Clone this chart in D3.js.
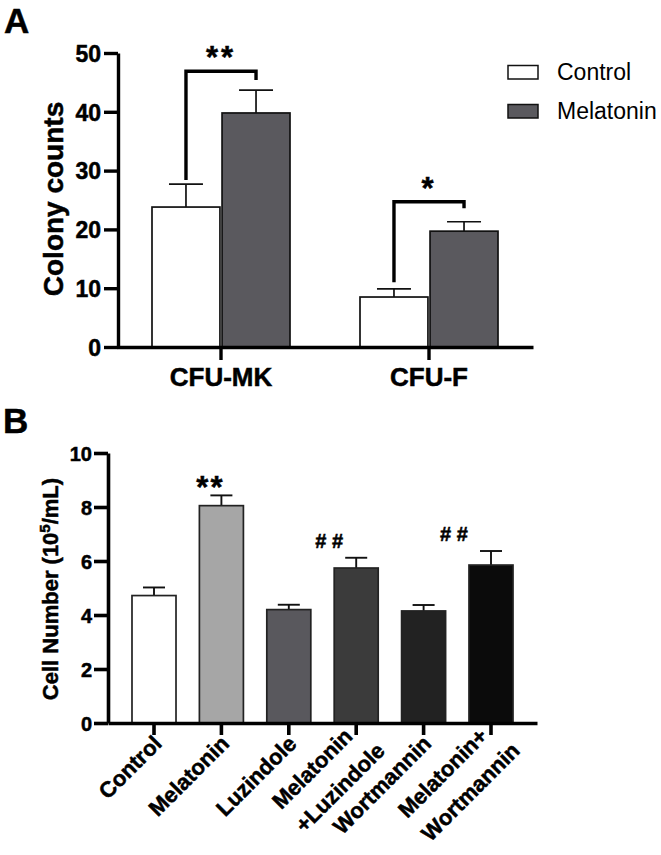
<!DOCTYPE html>
<html><head><meta charset="utf-8">
<script src="https://cdn.jsdelivr.net/npm/d3@7"></script>
<style>
html,body{margin:0;padding:0;background:#fff;}
svg{display:block;}
text{font-family:"Liberation Sans",Arial,Helvetica,sans-serif;}
.bold{font-weight:bold;stroke:#000;stroke-width:0.5px;}
</style></head>
<body>
<svg id="chart" width="661" height="855"></svg>
<script>
// ---------- Panel A data ----------
const categoriesA = ["CFU-MK", "CFU-F"];
const seriesA = ["Control", "Melatonin"];
const controlA = [23.8, 8.5];
const controlErrA = [3.9, 1.4];
const melatoninA = [39.8, 19.7];
const melatoninErrA = [3.9, 1.6];
const yTicksA = [0, 10, 20, 30, 40, 50];
const sigTextA = ["**", "*"];
const bracketTopA = [46.9, 24.7];
const bracketLeftEndA = [28.4, 11.0];
const bracketRightEndA = [45.4, 23.6];
const seriesColorsA = ["#ffffff", "#5a595e"];

// ---------- Panel B data ----------
const categoriesB = ["Control", "Melatonin", "Luzindole", "Melatonin\n+Luzindole", "Wortmannin", "Melatonin+\nWortmannin"];
const valuesB = [4.72, 8.05, 4.2, 5.74, 4.15, 5.85];
const errorsB = [0.3, 0.38, 0.18, 0.38, 0.22, 0.52];
const colorsB = ["#ffffff", "#a6a6a6", "#59585d", "#3b3b3b", "#222222", "#0b0b0b"];
const yTicksB = [0, 2, 4, 6, 8, 10];
const sigTextB = ["", "**", "", "# #", "", "# #"];

const svg = d3.select("#chart");
const FONT = '"Liberation Sans",Arial,Helvetica,sans-serif';

// ================= Panel A =================
const A = {left: 118, right: 533, top: 53, bottom: 347};
const xA = d3.scaleBand().domain(categoriesA).range([A.left - 1, A.right]).padding(0);
const xA1 = d3.scaleBand().domain(seriesA)
  .range([xA.bandwidth() / 2 - 69, xA.bandwidth() / 2 + 69]).paddingInner(0.03);
const yA = d3.scaleLinear().domain([0, 50]).range([A.bottom, A.top]);

const gA = svg.append("g");
svg.append("text").attr("class", "bold").attr("x", 4).attr("y", 33).attr("font-size", 35).text("A");

const dataA = categoriesA.map((c, i) => ({
  cat: c,
  bars: [
    {s: seriesA[0], v: controlA[i], e: controlErrA[i], color: seriesColorsA[0]},
    {s: seriesA[1], v: melatoninA[i], e: melatoninErrA[i], color: seriesColorsA[1]}
  ]
}));

dataA.forEach(d => {
  const g = gA.append("g").attr("transform", `translate(${xA(d.cat)},0)`);
  d.bars.forEach(b => {
    const cx = xA1(b.s) + xA1.bandwidth() / 2;
    g.append("line").attr("x1", cx).attr("x2", cx).attr("y1", yA(b.v)).attr("y2", yA(b.v + b.e))
      .attr("stroke", "#111").attr("stroke-width", 1.7);
    g.append("line").attr("x1", cx - xA1.bandwidth() / 4).attr("x2", cx + xA1.bandwidth() / 4)
      .attr("y1", yA(b.v + b.e)).attr("y2", yA(b.v + b.e))
      .attr("stroke", "#111").attr("stroke-width", 1.7);
    g.append("rect").attr("x", xA1(b.s)).attr("width", xA1.bandwidth())
      .attr("y", yA(b.v)).attr("height", yA(0) - yA(b.v))
      .attr("fill", b.color).attr("stroke", "#111").attr("stroke-width", 1.7);
  });
});

// brackets
categoriesA.forEach((c, i) => {
  const lx = xA(c) + xA1(seriesA[0]) + xA1.bandwidth() / 2;
  const rx = xA(c) + xA1(seriesA[1]) + xA1.bandwidth() / 2;
  const path = d3.path();
  path.moveTo(lx, yA(bracketLeftEndA[i]));
  path.lineTo(lx, yA(bracketTopA[i]));
  path.lineTo(rx, yA(bracketTopA[i]));
  path.lineTo(rx, yA(bracketRightEndA[i]));
  gA.append("path").attr("d", path.toString()).attr("fill", "none")
    .attr("stroke", "#000").attr("stroke-width", 3.4).attr("stroke-linejoin", "miter");
  gA.append("text").attr("class", "bold").attr("x", (lx + rx) / 2).attr("y", yA(bracketTopA[i]) - 3)
    .attr("text-anchor", "middle").attr("font-size", 31)
    .attr("letter-spacing", 3).text(sigTextA[i]);
});

// axes A
const yAxisA = d3.axisLeft(yA).tickValues(yTicksA).tickSize(14).tickPadding(3).tickSizeOuter(0);
const gyA = gA.append("g").attr("transform", `translate(${A.left},0)`).call(yAxisA);
gyA.select(".domain").attr("stroke", "#000").attr("stroke-width", 3.4);
gyA.selectAll(".tick line").attr("stroke", "#000").attr("stroke-width", 3.4);
gyA.selectAll(".tick text").attr("class", "bold").attr("font-size", 23).attr("fill", "#000")
  .attr("font-family", FONT).attr("dy", "0.36em");

const xAxisA = d3.axisBottom(xA).tickSize(13).tickPadding(8).tickSizeOuter(0);
const gxA = gA.append("g").attr("transform", `translate(0,${A.bottom})`).call(xAxisA);
gxA.select(".domain").attr("stroke", "#000").attr("stroke-width", 3.4);
gxA.selectAll(".tick line").attr("stroke", "#000").attr("stroke-width", 3.4);
gxA.selectAll(".tick text").attr("class", "bold").attr("font-size", 26).attr("fill", "#000")
  .attr("font-family", FONT).attr("dy", "0.68em");

gA.append("text").attr("class", "bold").attr("transform", `translate(63,199) rotate(-90)`).attr("text-anchor", "middle")
  .attr("font-size", 28).text("Colony counts");

// legend
const legA = gA.append("g");
seriesA.forEach((s, i) => {
  const ly = 72 + i * 39;
  legA.append("rect").attr("x", 508).attr("y", ly - 6.5).attr("width", 30).attr("height", 13.5)
    .attr("fill", seriesColorsA[i]).attr("stroke", "#111").attr("stroke-width", 1.5);
  legA.append("text").attr("x", 557).attr("y", ly + 8).attr("font-size", 23).text(s);
});

// ================= Panel B =================
const B = {left: 108, right: 537, top: 453, bottom: 723};
const xB = d3.scaleBand().domain(categoriesB).range([B.left, B.right])
  .paddingInner(0.347).paddingOuter(0.356);
const yB = d3.scaleLinear().domain([0, 10]).range([B.bottom, B.top]);

const gB = svg.append("g");
svg.append("text").attr("class", "bold").attr("x", 3).attr("y", 433).attr("font-size", 35).text("B");

categoriesB.forEach((c, i) => {
  const x0 = xB(c), bw = xB.bandwidth(), cx = x0 + bw / 2;
  const v = valuesB[i], e = errorsB[i];
  gB.append("line").attr("x1", cx).attr("x2", cx).attr("y1", yB(v)).attr("y2", yB(v + e))
    .attr("stroke", "#111").attr("stroke-width", 1.9);
  gB.append("line").attr("x1", cx - bw / 4).attr("x2", cx + bw / 4).attr("y1", yB(v + e)).attr("y2", yB(v + e))
    .attr("stroke", "#111").attr("stroke-width", 1.9);
  gB.append("rect").attr("x", x0).attr("width", bw).attr("y", yB(v)).attr("height", yB(0) - yB(v))
    .attr("fill", colorsB[i]).attr("stroke", "#222").attr("stroke-width", 1.7);
});

// significance marks B
categoriesB.forEach((c, i) => {
  const t = sigTextB[i];
  if (!t) return;
  const cx = xB(c) + xB.bandwidth() / 2;
  const isStar = t === "**";
  const dx = isStar ? -11 : (i === 5 ? -37 : -27);
  const y = yB(valuesB[i] + errorsB[i]) + (isStar ? 3 : -10);
  gB.append("text").attr("class", "bold").attr("x", cx + dx).attr("y", y).attr("text-anchor", "middle")
    .attr("font-size", isStar ? 31 : 20).attr("letter-spacing", isStar ? 2 : 0).text(t);
});

// axes B
const yAxisB = d3.axisLeft(yB).tickValues(yTicksB).tickSize(14).tickPadding(2).tickSizeOuter(0);
const gyB = gB.append("g").attr("transform", `translate(${B.left},0)`).call(yAxisB);
gyB.select(".domain").attr("stroke", "#000").attr("stroke-width", 3.6);
gyB.selectAll(".tick line").attr("stroke", "#000").attr("stroke-width", 3.6);
gyB.selectAll(".tick text").attr("class", "bold").attr("font-size", 20).attr("fill", "#000")
  .attr("font-family", FONT).attr("dy", "0.36em");

const xAxisB = d3.axisBottom(xB).tickSize(12).tickSizeOuter(0).tickFormat("");
const gxB = gB.append("g").attr("transform", `translate(0,${B.bottom})`).call(xAxisB);
gxB.select(".domain").attr("stroke", "#000").attr("stroke-width", 3.6);
gxB.selectAll(".tick line").attr("stroke", "#000").attr("stroke-width", 3.6);

// rotated category labels
const labFs = 22, lh = 33;
categoriesB.forEach(c => {
  const tx = xB(c) + xB.bandwidth() / 2;
  const lines = c.split("\n");
  const g = gB.append("g");
  const texts = lines.map(l => g.append("text").attr("class", "bold").attr("font-size", labFs).text(l));
  const widths = texts.map(t => t.node().getComputedTextLength());
  const W = d3.max(widths);
  if (lines.length === 1) {
    g.attr("transform", `translate(${tx + 9},${B.bottom + 22}) rotate(-45)`);
    texts[0].attr("x", -W).attr("y", 0);
  } else {
    // right end of the longest (last) line anchored near the tick
    g.attr("transform", `translate(${tx + 30},${B.bottom + 29}) rotate(-45)`);
    texts.forEach((t, k) => t.attr("x", -W).attr("y", (k - (lines.length - 1)) * lh));
  }
});

gB.append("text").attr("class", "bold").attr("transform", `translate(58,589) rotate(-90)`).attr("text-anchor", "middle")
  .attr("font-size", 22)
  .call(t => {
    t.append("tspan").text("Cell Number (10");
    t.append("tspan").attr("font-size", 15).attr("dy", -8).text("5");
    t.append("tspan").attr("dy", 8).text("/mL)");
  });
</script>
</body></html>
